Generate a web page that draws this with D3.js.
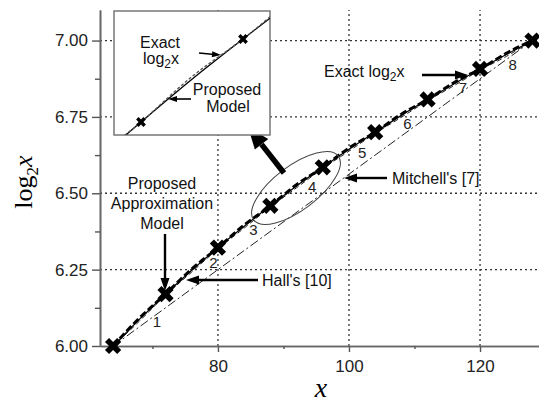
<!DOCTYPE html>
<html>
<head>
<meta charset="utf-8">
<script src="https://cdn.jsdelivr.net/npm/d3@7"></script>
<style>
body{margin:0;background:#fff;}
svg{display:block;font-family:"Liberation Sans",Arial,sans-serif;}
</style>
</head>
<body>
<div id="chart"></div>
<script>
// data
var xs=[64,68,72,76,80,84,88,92,96,100,104,108,112,116,120,124,128];
var exactLog=[6.000,6.087,6.170,6.248,6.322,6.392,6.459,6.524,6.585,6.644,6.700,6.755,6.807,6.858,6.907,6.954,7.000];
var proposed=[6.000,6.091,6.170,6.252,6.322,6.396,6.459,6.528,6.585,6.648,6.700,6.759,6.807,6.862,6.907,6.958,7.000];
var hall=[6.000,6.081,6.166,6.242,6.318,6.386,6.455,6.518,6.581,6.638,6.696,6.749,6.803,6.852,6.903,6.948,7.000];
var mitchellX=[64,128];
var mitchell=[6.0,7.0];
var markerX=[64,72,80,88,96,104,112,120,128];
var markerY=[6.000,6.170,6.322,6.459,6.585,6.700,6.807,6.907,7.000];
var segLabels=["1","2","3","4","5","6","7","8"];
var segX=[70.7,79.3,85.4,94.4,102,108.9,117.4,125];
var segY=[6.079,6.272,6.38,6.52,6.633,6.728,6.846,6.92];
var xTicks=[80,100,120];
var xMinor=[70,90,110];
var yTicks=[6.00,6.25,6.50,6.75,7.00];
var yMinor=[6.125,6.375,6.625,6.875];

var W=539,H=402;
var svg=d3.select("#chart").append("svg").attr("width",W).attr("height",H);
var x=d3.scaleLinear().domain([62,129]).range([100,539]);
var y=d3.scaleLinear().domain([6,7.1]).range([346,10]);

// grid
svg.append("g").selectAll("line").data(xTicks).enter().append("line")
.attr("x1",d=>x(d)).attr("x2",d=>x(d)).attr("y1",y(6)).attr("y2",y(7.1))
.attr("stroke","#333").attr("stroke-width",1.3).attr("stroke-dasharray","2,3");
svg.append("g").selectAll("line").data(yTicks.slice(1)).enter().append("line")
.attr("x1",x(62)).attr("x2",x(129)).attr("y1",d=>y(d)).attr("y2",d=>y(d))
.attr("stroke","#333").attr("stroke-width",1.3).attr("stroke-dasharray","2,3");

// axes
var xAxis=svg.append("g").attr("transform","translate(0,"+y(6)+")")
.call(d3.axisBottom(x).tickValues(xTicks).tickSize(6).tickPadding(8).tickSizeOuter(0));
svg.append("g").attr("transform","translate(0,"+y(6)+")")
.call(d3.axisBottom(x).tickValues(xMinor).tickSize(3).tickFormat("").tickSizeOuter(0));
var yAxis=svg.append("g").attr("transform","translate("+x(62)+",0)")
.call(d3.axisLeft(y).tickValues(yTicks).tickSize(8).tickPadding(4).tickSizeOuter(0).tickFormat(d3.format(".2f")));
svg.append("g").attr("transform","translate("+x(62)+",0)")
.call(d3.axisLeft(y).tickValues(yMinor).tickSize(5).tickFormat("").tickSizeOuter(0));
svg.selectAll(".domain").attr("stroke","#666").attr("stroke-width",1.6);
svg.selectAll(".tick line").attr("stroke","#555").attr("stroke-width",1.4);
svg.selectAll(".tick text").attr("font-size","17px").attr("fill","#222")
.attr("font-family","'Liberation Sans',Arial,sans-serif");

// axis titles
svg.append("text").attr("x",321).attr("y",397).attr("text-anchor","middle")
.attr("font-family","'Liberation Serif','Times New Roman',serif").attr("font-style","italic")
.attr("font-size","28px").text("x");
var yt=svg.append("text").attr("transform","translate(32,182) rotate(-90)").attr("text-anchor","middle")
.attr("font-family","'Liberation Serif','Times New Roman',serif").attr("font-size","26px");
yt.append("tspan").text("log");
yt.append("tspan").attr("font-size","17px").attr("dy",6).text("2");
yt.append("tspan").attr("font-style","italic").attr("dy",-6).text("x");

// series
var mline=d3.line().x((d,i)=>x(mitchellX[i])).y(d=>y(d));
svg.append("path").datum(mitchell).attr("d",mline).attr("fill","none")
.attr("stroke","#222").attr("stroke-width",1).attr("stroke-dasharray","9,3,2,3");
var cline=d3.line().x((d,i)=>x(xs[i])).y(d=>y(d)).curve(d3.curveNatural);
svg.append("path").datum(hall).attr("d",cline).attr("fill","none")
.attr("stroke","#222").attr("stroke-width",1).attr("stroke-dasharray","5,3");
svg.append("path").datum(exactLog).attr("d",cline).attr("fill","none")
.attr("stroke","#000").attr("stroke-width",1.2);
svg.append("path").datum(proposed).attr("d",cline).attr("fill","none")
.attr("stroke","#000").attr("stroke-width",3).attr("stroke-dasharray","7,3");

var cross=d3.symbol().type(d3.symbolCross).size(165);
svg.append("g").selectAll("path").data(markerY).enter().append("path")
.attr("d",cross).attr("fill","#000")
.attr("transform",(d,i)=>"translate("+x(markerX[i])+","+y(d)+") rotate(45)");

svg.append("g").selectAll("text").data(segLabels).enter().append("text")
.attr("x",(d,i)=>x(segX[i])).attr("y",(d,i)=>y(segY[i])).attr("dy","0.35em")
.attr("text-anchor","middle").attr("font-size","15px").attr("fill","#222").text(d=>d);

// arrows
function arrow(x1,y1,x2,y2,w,hl,hw){
  var a=Math.atan2(y2-y1,x2-x1);
  var bx=x2-hl*Math.cos(a),by=y2-hl*Math.sin(a);
  svg.append("line").attr("x1",x1).attr("y1",y1).attr("x2",bx).attr("y2",by)
  .attr("stroke","#000").attr("stroke-width",w);
  var px=-Math.sin(a)*hw/2,py=Math.cos(a)*hw/2;
  svg.append("path").attr("d","M"+x2+","+y2+"L"+(bx+px)+","+(by+py)+"L"+(bx-px)+","+(by-py)+"Z")
  .attr("fill","#000");
}
function label(t,xx,yy,anchor){
  return svg.append("text").attr("x",xx).attr("y",yy).attr("text-anchor",anchor||"start")
  .attr("font-size","16px").attr("fill","#111").text(t);
}
function logLabel(pre,xx,yy,anchor){
  var t=svg.append("text").attr("x",xx).attr("y",yy).attr("text-anchor",anchor||"start")
  .attr("font-size","16px").attr("fill","#111");
  t.append("tspan").text(pre+"log");
  t.append("tspan").attr("font-size","12px").attr("dy",4).text("2");
  t.append("tspan").attr("dy",-4).text("x");
}

logLabel("Exact ",324,77);
arrow(422,75,468,75,2.4,13,9);
label("Mitchell's [7]",392,184);
arrow(387,178,344,178,2.4,13,9);
label("Hall's [10]",262,286);
arrow(258,280,186,280,2.4,13,9);
label("Proposed",162,189,"middle");
label("Approximation",162,209,"middle");
label("Model",162,229,"middle");
arrow(165,234,165,291,2.4,13,9);

// ellipse and zoom arrow
svg.append("ellipse").attr("cx",296).attr("cy",188).attr("rx",53).attr("ry",22)
.attr("transform","rotate(-37,296,188)").attr("fill","none").attr("stroke","#444").attr("stroke-width",1);
arrow(284,173,248,127,5.5,22,17);

// inset
svg.append("rect").attr("x",114).attr("y",11).attr("width",156).attr("height",124)
.attr("fill","#fff").attr("stroke","#777").attr("stroke-width",1.5);
svg.append("clipPath").attr("id","ic").append("rect").attr("x",114).attr("y",11).attr("width",156).attr("height",124);
var ix=d3.scaleLinear().domain([88,96]).range([141,243]);
var iy=d3.scaleLinear().domain([6.459,6.585]).range([122,39]);
var iline=d3.line().x((d,i)=>ix(xs[i])).y(d=>iy(d)).curve(d3.curveNatural);
var ig=svg.append("g").attr("clip-path","url(#ic)");
ig.append("path").datum(exactLog).attr("d",iline).attr("fill","none").attr("stroke","#000").attr("stroke-width",1.3);
ig.append("path").datum(proposed).attr("d",iline).attr("fill","none").attr("stroke","#555")
.attr("stroke-width",1.3).attr("stroke-dasharray","3,2");
ig.selectAll(".im").data(markerY).enter().append("path")
.attr("d",d3.symbol().type(d3.symbolCross).size(60)).attr("fill","#000")
.attr("transform",(d,i)=>"translate("+ix(markerX[i])+","+iy(d)+") rotate(45)");
label("Exact",160,48,"middle");
logLabel("",143,64);
label("Proposed",227,95,"middle");
label("Model",228,112,"middle");
arrow(199,53,221,55,1.6,9,6);
arrow(191,99,168,99,1.6,9,6);
</script>
</body>
</html>
